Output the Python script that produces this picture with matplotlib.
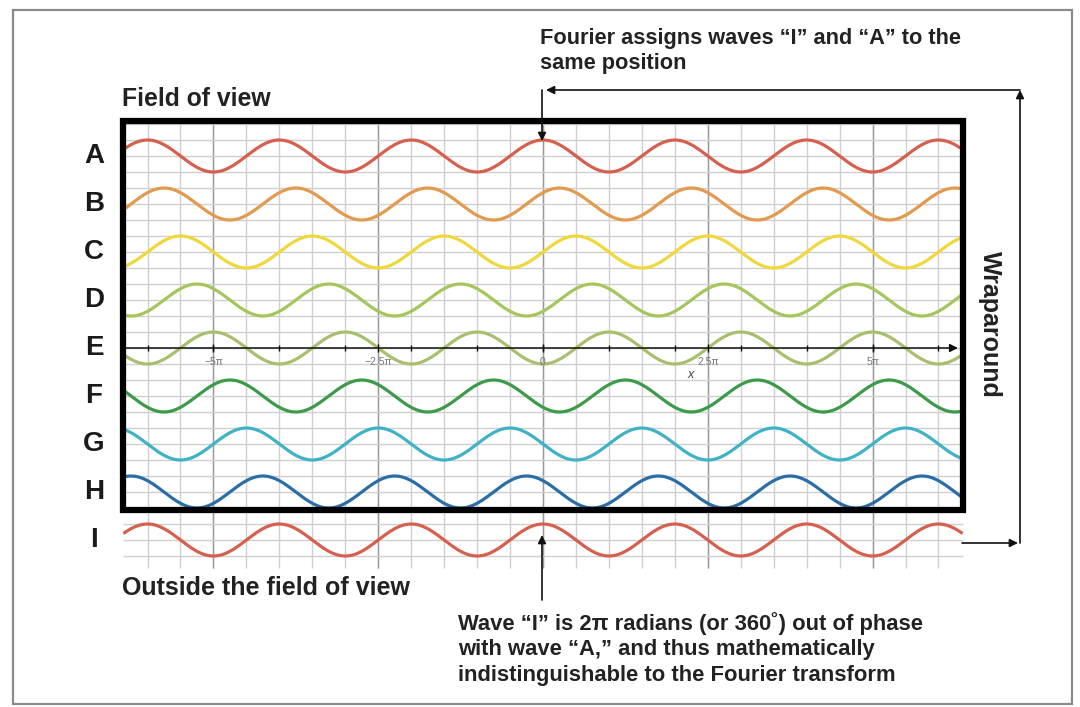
import numpy as np
import matplotlib
matplotlib.use('Agg')
import matplotlib.pyplot as plt
from matplotlib.patches import Rectangle

plt.rcParams['font.family'] = ['Liberation Sans', 'DejaVu Sans']

# wave rows (phase shift in multiples of pi, vertical offset in grid units)
row_labels = ['A', 'B', 'C', 'D', 'E', 'F', 'G', 'H', 'I']
phase_shift_pi = [0, 0.25, 0.5, 0.75, 1.0, 1.25, 1.5, 1.75, 2.0]
row_offsets = [12, 9, 6, 3, 0, -3, -6, -9, -12]
row_colors = ['#d6604f', '#e39a4f', '#efd83c', '#a5c65c', '#a9bf6d',
              '#3c9a4a', '#3fb3c5', '#2b6ea7', '#d6604f']

tick_vals_pi = [-5, -2.5, 0, 2.5, 5]
tick_text = ['\u22125\u03c0', '\u22122.5\u03c0', '0', '2.5\u03c0', '5\u03c0']

X_MIN, X_MAX = -20, 20          # field of view (radians)
FOV_TOP, FOV_BOT = 14.2, -10.1  # frame edges, grid units

# pixel <-> data mapping (figure is 1080 x 707 px)
PX0, PXS = 543.0, 20.98   # x pixel of x=0, px per radian
PY0, PYS = 348.0, 16.0    # y pixel of y=0, px per grid unit
def dx(px): return (px - PX0) / PXS
def dy(py): return (PY0 - py) / PYS

fig = plt.figure(figsize=(10.8, 7.07), dpi=100)
ax = fig.add_axes([0, 0, 1, 1])
ax.set_xlim(dx(0), dx(1080))
ax.set_ylim(dy(707), dy(0))
ax.axis('off')

# outer border
fig.patches.append(Rectangle((13 / 1080, 1 - 704 / 707), (1072 - 13) / 1080, (704 - 10) / 707,
                             transform=fig.transFigure, fill=False, ec='#8a8a8a', lw=1.6))

# grid
grid_x = np.arange(-12, 13) * np.pi / 2
major = np.array([abs(v / np.pi) % 2.5 < 1e-6 for v in grid_x])
ax.vlines(grid_x, dy(568), FOV_TOP, color='#d0d0d0', lw=1.0, zorder=1)
ax.vlines(grid_x[major], dy(568), FOV_TOP, color='#999999', lw=1.0, zorder=1)
ax.hlines(np.arange(-10, 15), X_MIN, X_MAX, color='#d0d0d0', lw=1.0, zorder=1)
ax.hlines([-11, -12, -13], X_MIN, X_MAX, color='#d0d0d0', lw=1.0, zorder=1)

# waves
x = np.linspace(X_MIN, X_MAX, 3000)
for lab, ph, off, col in zip(row_labels, phase_shift_pi, row_offsets, row_colors):
    ax.plot(x, off + np.cos(x - ph * np.pi), color=col, lw=2.3, zorder=3,
            solid_capstyle='butt')
    ax.text(dx(94), off, lab, ha='center', va='center', fontsize=20,
            fontweight='bold', color='#1a1a1a')

# x axis with arrow
ax.annotate('', xy=(dx(958), 0), xytext=(X_MIN, 0),
            arrowprops=dict(arrowstyle='-|>', color='#111111', lw=1.1,
                            mutation_scale=12, shrinkA=0, shrinkB=0), zorder=4)
tick_x = np.arange(-6, 7) * np.pi
ax.vlines(tick_x, -0.18, 0.18, color='#111111', lw=1.0, zorder=4)
ax.vlines(np.array(tick_vals_pi) * np.pi, -0.25, 0.25, color='#111111', lw=1.0, zorder=4)
for v, t in zip(tick_vals_pi, tick_text):
    ax.text(v * np.pi, dy(362), t, ha='center', va='center', fontsize=7.5,
            color='#777777', zorder=4)
ax.text(dx(691), dy(375), 'x', ha='center', va='center', fontsize=9,
        style='italic', color='#444444', zorder=4)

# field of view frame
ax.add_patch(Rectangle((X_MIN, FOV_BOT), X_MAX - X_MIN, FOV_TOP - FOV_BOT,
                       fill=False, ec='black', lw=4.5, zorder=5))

txt = dict(fontweight='bold', color='#222222')
ax.text(dx(122), dy(99), 'Field of view', ha='left', va='center', fontsize=17.8, **txt)
ax.text(dx(122), dy(588), 'Outside the field of view', ha='left', va='center',
        fontsize=18, **txt)
ax.text(dx(540), dy(51), 'Fourier assigns waves \u201cI\u201d and \u201cA\u201d to the\nsame position',
        ha='left', va='center', fontsize=15.7, linespacing=1.3, **txt)
ax.text(dx(458), dy(649),
        'Wave \u201cI\u201d is 2\u03c0 radians (or 360\u02da) out of phase\n'
        'with wave \u201cA,\u201d and thus mathematically\n'
        'indistinguishable to the Fourier transform',
        ha='left', va='center', fontsize=15.8, linespacing=1.3, **txt)
ax.text(dx(990), dy(324), 'Wraparound', ha='center', va='center', rotation=-90,
        fontsize=18, **txt)

# wraparound arrows
arr = dict(arrowstyle='-|>', color='#111111', lw=1.2, mutation_scale=12,
           shrinkA=0, shrinkB=0)
def arrow(p0, p1):
    ax.annotate('', xy=(dx(p1[0]), dy(p1[1])), xytext=(dx(p0[0]), dy(p0[1])),
                arrowprops=arr, zorder=6)
arrow((962, 543), (1018, 543))
arrow((1020, 543), (1020, 90))
arrow((1020, 90), (546, 90))
arrow((542, 90), (542, 141))
arrow((542, 600), (542, 535))

fig.savefig('out.png', dpi=100)
